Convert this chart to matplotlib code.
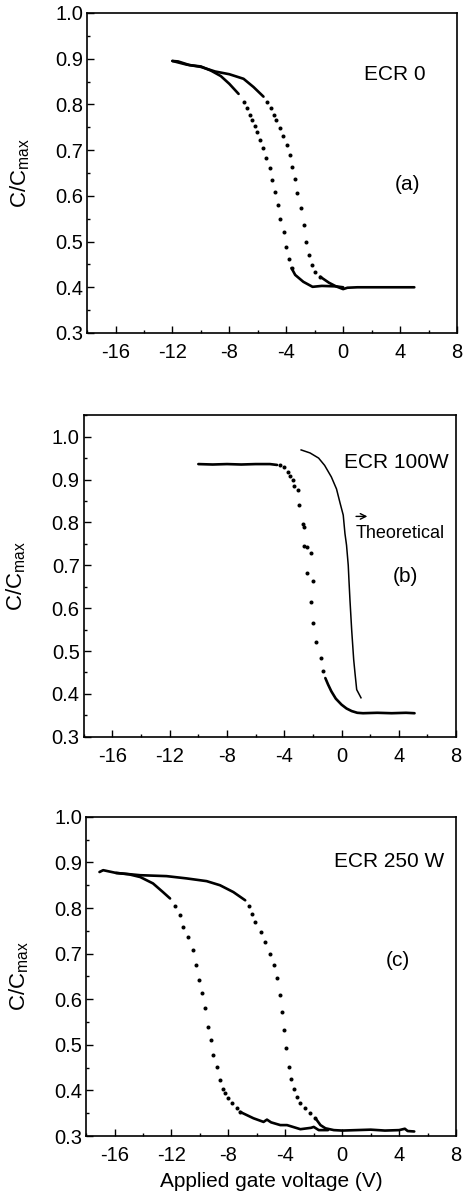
import matplotlib
matplotlib.use("Agg")
import matplotlib.pyplot as plt
from matplotlib.ticker import MultipleLocator

plt.rcParams['font.family'] = ['Liberation Sans', 'DejaVu Sans']
plt.rcParams['mathtext.fontset'] = 'custom'
plt.rcParams['mathtext.rm'] = 'Liberation Sans'
plt.rcParams['axes.unicode_minus'] = False

# ---- panel (a): ECR 0 ----
a_fwd_line_v = [-12.0, -11.6, -10.8, -10.0, -9.3, -8.6, -8.0, -7.35]
a_fwd_line_c = [0.895, 0.894, 0.886, 0.883, 0.874, 0.862, 0.845, 0.823]
a_fwd_dot_v = [-7.0, -6.76, -6.57, -6.41, -6.22, -6.06, -5.87, -5.64, -5.40, -5.17,
               -4.98, -4.77, -4.61, -4.42, -4.19, -4.0, -3.81, -3.63]
a_fwd_dot_c = [0.806, 0.792, 0.777, 0.766, 0.753, 0.739, 0.722, 0.704, 0.682, 0.660,
               0.635, 0.608, 0.580, 0.549, 0.520, 0.489, 0.462, 0.442]
a_fwd_tail_v = [-3.63, -3.37, -2.8, -2.15, -1.5, -0.5, 0.0]
a_fwd_tail_c = [0.442, 0.427, 0.412, 0.401, 0.403, 0.402, 0.400]

a_rev_line_v = [-12.0, -11.0, -10.0, -9.0, -8.0, -7.0, -6.3, -5.6]
a_rev_line_c = [0.895, 0.887, 0.882, 0.872, 0.866, 0.856, 0.838, 0.817]
a_rev_dot_v = [-5.36, -5.07, -4.89, -4.70, -4.42, -4.23, -3.95, -3.77, -3.60, -3.37,
               -3.21, -2.97, -2.78, -2.60, -2.39, -2.20, -1.96, -1.61]
a_rev_dot_c = [0.806, 0.792, 0.777, 0.766, 0.748, 0.731, 0.711, 0.689, 0.664, 0.636,
               0.607, 0.573, 0.536, 0.500, 0.471, 0.449, 0.434, 0.423]
a_rev_tail_v = [-1.61, -1.0, -0.5, 0.0, 0.3, 1.0, 2.0, 3.0, 4.0, 5.0]
a_rev_tail_c = [0.423, 0.410, 0.402, 0.396, 0.399, 0.400, 0.400, 0.400, 0.400, 0.400]

# ---- panel (b): ECR 100W ----
b_flat_v = [-10.0, -9.0, -8.0, -7.0, -6.0, -5.0, -4.5]
b_flat_c = [0.936, 0.935, 0.936, 0.935, 0.936, 0.936, 0.934]
b_dot_v = [-4.3, -4.0, -3.76, -3.58, -3.41, -3.29, -3.06, -2.99, -2.71, -2.64, -2.59,
           -2.40, -2.16, -2.40, -2.0, -2.16, -2.0, -1.76, -1.46, -1.29]
b_dot_c = [0.933, 0.929, 0.917, 0.909, 0.898, 0.886, 0.875, 0.840, 0.797, 0.789, 0.745,
           0.743, 0.729, 0.681, 0.663, 0.615, 0.565, 0.522, 0.484, 0.453]
b_tail_v = [-1.13, -0.94, -0.71, -0.4, 0.0, 0.35, 0.71, 1.1, 1.5, 2.5, 3.5, 4.5, 5.1]
b_tail_c = [0.437, 0.422, 0.406, 0.389, 0.375, 0.366, 0.360, 0.356, 0.355, 0.356,
            0.355, 0.356, 0.355]
b_theo_v = [-2.82, -2.2, -1.6, -1.18, -0.71, -0.35, -0.1, 0.12, 0.24, 0.35, 0.47,
            0.52, 0.59, 0.71, 0.85, 0.94, 1.06, 1.36]
b_theo_c = [0.969, 0.962, 0.950, 0.933, 0.906, 0.878, 0.845, 0.817, 0.774, 0.747,
            0.700, 0.665, 0.619, 0.549, 0.480, 0.449, 0.410, 0.391]

# ---- panel (c): ECR 250 W ----
c_up_line_v = [-17.06, -16.8, -15.9, -14.2, -12.35, -10.94, -9.53, -8.59, -7.65, -6.82]
c_up_line_c = [0.879, 0.883, 0.877, 0.872, 0.870, 0.865, 0.859, 0.850, 0.835, 0.817]
c_up_dot_v = [-6.52, -6.35, -6.12, -5.72, -5.41, -5.06, -4.78, -4.59, -4.40, -4.24,
              -4.07, -3.93, -3.76, -3.60, -3.41, -3.18, -2.94, -2.59, -2.24, -1.88]
c_up_dot_c = [0.804, 0.788, 0.770, 0.748, 0.726, 0.700, 0.675, 0.646, 0.609, 0.572,
              0.532, 0.492, 0.452, 0.426, 0.404, 0.386, 0.372, 0.361, 0.350, 0.339]
c_up_tail_v = [-1.88, -1.53, -1.18, -0.59, 0.0, 1.0, 2.0, 3.0, 4.0, 4.4, 4.6, 5.06]
c_up_tail_c = [0.339, 0.324, 0.317, 0.313, 0.312, 0.313, 0.314, 0.312, 0.313, 0.316,
               0.311, 0.310]

c_lo_line_v = [-15.9, -15.0, -14.2, -13.3, -12.6, -12.1]
c_lo_line_c = [0.877, 0.874, 0.868, 0.854, 0.835, 0.821]
c_lo_dot_v = [-11.76, -11.41, -11.18, -10.82, -10.52, -10.28, -10.05, -9.88, -9.65,
              -9.46, -9.25, -9.06, -8.82, -8.59, -8.40, -8.24, -8.0, -7.76, -7.41, -7.18]
c_lo_dot_c = [0.804, 0.784, 0.759, 0.737, 0.708, 0.675, 0.642, 0.613, 0.580, 0.540,
              0.510, 0.478, 0.452, 0.423, 0.404, 0.394, 0.383, 0.372, 0.361, 0.353]
c_lo_tail_v = [-7.18, -6.24, -5.53, -5.29, -5.0, -4.35, -3.88, -2.94, -2.2, -2.0,
               -1.65, -1.0]
c_lo_tail_c = [0.353, 0.339, 0.331, 0.336, 0.330, 0.324, 0.324, 0.315, 0.318, 0.320,
               0.313, 0.313]

x_ticks = [-16, -12, -8, -4, 0, 4, 8]

fig = plt.figure(figsize=(4.63, 12), dpi=100)
ax_a = fig.add_axes([0.188, 0.7225, 0.799, 0.2667])
ax_b = fig.add_axes([0.181, 0.386, 0.804, 0.268])
ax_c = fig.add_axes([0.186, 0.0533, 0.799, 0.266])

lw = 1.9
ms = 2.9


def draw(ax, lines, dots):
    for v, c in lines:
        ax.plot(v, c, color='black', lw=lw, solid_capstyle='round')
    for v, c in dots:
        ax.plot(v, c, ls='none', marker='o', ms=ms, color='black', mec='none')


draw(ax_a,
     [(a_fwd_line_v, a_fwd_line_c), (a_fwd_tail_v, a_fwd_tail_c),
      (a_rev_line_v, a_rev_line_c), (a_rev_tail_v, a_rev_tail_c)],
     [(a_fwd_dot_v, a_fwd_dot_c), (a_rev_dot_v, a_rev_dot_c)])
draw(ax_b,
     [(b_flat_v, b_flat_c), (b_tail_v, b_tail_c)],
     [(b_dot_v, b_dot_c)])
ax_b.plot(b_theo_v, b_theo_c, color='black', lw=1.1)
draw(ax_c,
     [(c_up_line_v, c_up_line_c), (c_up_tail_v, c_up_tail_c),
      (c_lo_line_v, c_lo_line_c), (c_lo_tail_v, c_lo_tail_c)],
     [(c_up_dot_v, c_up_dot_c), (c_lo_dot_v, c_lo_dot_c)])

for ax, ytop in [(ax_a, 1.0), (ax_b, 1.05), (ax_c, 1.0)]:
    ax.set_xlim(-18, 8)
    ax.set_ylim(0.3, ytop)
    ax.set_xticks(x_ticks)
    ax.set_yticks([0.3, 0.4, 0.5, 0.6, 0.7, 0.8, 0.9, 1.0])
    ax.set_yticklabels(['0.3', '0.4', '0.5', '0.6', '0.7', '0.8', '0.9', '1.0'])
    ax.xaxis.set_minor_locator(MultipleLocator(2))
    ax.yaxis.set_minor_locator(MultipleLocator(0.05))
    ax.tick_params(which='both', direction='in', labelsize=14.5, width=1.0)
    ax.tick_params(which='major', length=5)
    ax.tick_params(which='minor', length=2.5)
    ax.tick_params(axis='x', pad=7)
    ax.tick_params(axis='y', pad=3)
    for s in ax.spines.values():
        s.set_linewidth(1.2)
    ax.set_ylabel('C/C$_{\\mathregular{max}}$', fontsize=16)
    ax.yaxis.set_label_coords(-0.15, 0.5)

ax_a.text(1.5, 0.865, 'ECR 0', fontsize=15, va='center', ha='left')
ax_a.text(4.5, 0.624, '(a)', fontsize=15, va='center', ha='center')

ax_b.text(0.2, 0.94, 'ECR 100W', fontsize=15, va='center', ha='left')
ax_b.annotate('', xy=(2.0, 0.814), xytext=(0.82, 0.814),
              arrowprops=dict(arrowstyle='->', color='black', lw=1.0))
ax_b.text(1.0, 0.774, 'Theoretical', fontsize=13, va='center', ha='left')
ax_b.text(4.47, 0.673, '(b)', fontsize=15, va='center', ha='center')

ax_c.text(-0.6, 0.901, 'ECR 250 W', fontsize=15, va='center', ha='left')
ax_c.text(3.88, 0.686, '(c)', fontsize=15, va='center', ha='center')
ax_c.set_xlabel('Applied gate voltage (V)', fontsize=15, labelpad=5)

fig.savefig('out.png', dpi=100)
